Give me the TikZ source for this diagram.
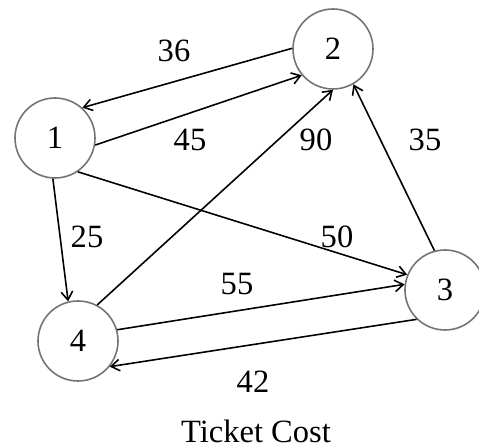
\documentclass[tikz,border=0pt]{standalone}
\usepackage{fontspec}
\setmainfont{Liberation Serif}
\usetikzlibrary{arrows.meta}
\tikzset{
    city/.style={
        draw=black!55,
        circle,
        line width=0.9pt,
        fill=white,
        minimum size=1.6cm,
        inner sep=0pt,
        font=\fontsize{18.5}{20}\selectfont
    },
    cost/.style={
        inner sep=0pt,
        font=\fontsize{18.5}{20}\selectfont
    },
    flight/.style={
        draw,
        -{Straight Barb[length=1.7mm, width=2.3mm]},
        line width=0.9pt
    }
}

\begin{document}
\begin{tikzpicture}
  \useasboundingbox (0,0) rectangle (9.58,-8.96);

  % Cities
  \node[city] (c1) at (1.10,-2.76) {1};
  \node[city] (c2) at (6.66,-0.98) {2};
  \node[city] (c3) at (8.90,-5.80) {3};
  \node[city] (c4) at (1.56,-6.82) {4};

  % Flights (from.angle / to.angle)
  \foreach \a/\sa/\b/\eb in {c2/179/c1/48, c1/-10/c2/220, c4/62/c2/270,
                             c3/105/c2/300, c1/267/c4/104, c1/304/c3/158,
                             c4/16/c3/172, c3/226/c4/321} {
    \draw[flight] (\a.\sa) -- (\b.\eb);
  }

  % Ticket costs
  \node[cost] (k36) at (3.48,-1.02) {36};
  \node[cost] (k45) at (3.80,-2.80) {45};
  \node[cost] (k90) at (6.32,-2.80) {90};
  \node[cost] (k35) at (8.50,-2.80) {35};
  \node[cost] (k25) at (1.74,-4.74) {25};
  \node[cost] (k50) at (6.74,-4.74) {50};
  \node[cost] (k55) at (4.74,-5.68) {55};
  \node[cost] (k42) at (5.06,-7.64) {42};

  \node[cost] (title) at (5.12,-8.62) {Ticket Cost};
\end{tikzpicture}
\end{document}
